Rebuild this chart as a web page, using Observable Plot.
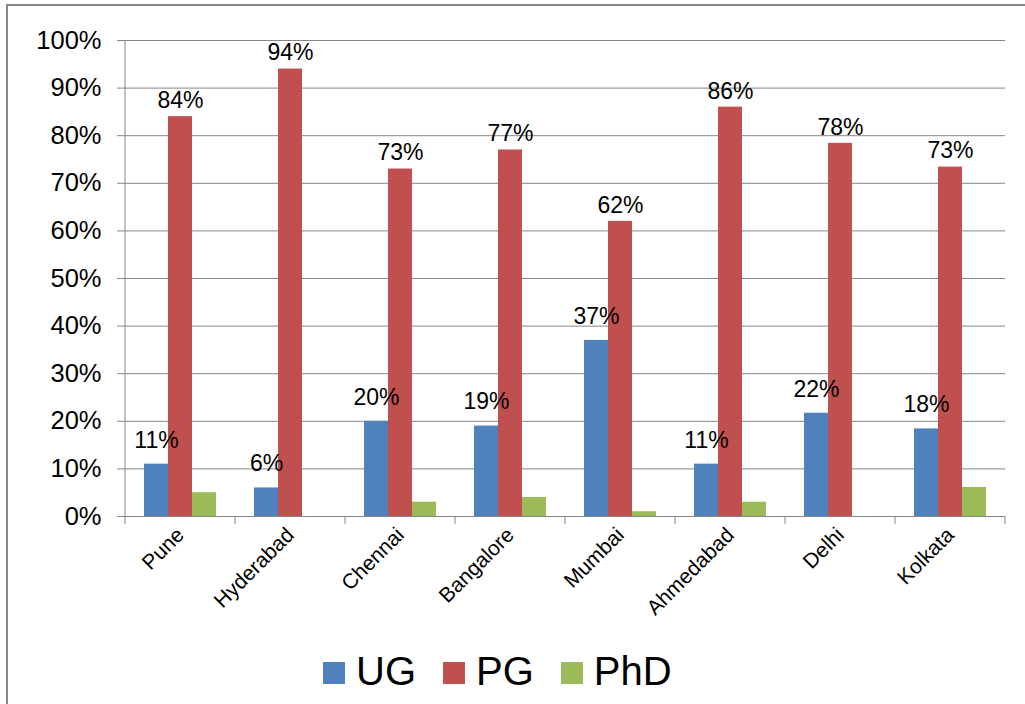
<!DOCTYPE html>
<html>
<head>
<meta charset="utf-8">
<script src="https://cdn.jsdelivr.net/npm/d3@7"></script>
<script src="https://cdn.jsdelivr.net/npm/@observablehq/plot@0.6"></script>
<style>
  body { margin: 0; background: #fff; font-family: "Liberation Sans", Arial, sans-serif; }
  #wrap { position: relative; width: 1025px; height: 704px; overflow: hidden; }
  #frame { position: absolute; left: 6px; top: 4px; width: 1200px; height: 900px;
           border-left: 2px solid #898989; border-top: 2px solid #898989; }
  #chart { position: absolute; left: 0; top: 0; }
  #legend { position: absolute; left: 323px; top: 648px; display: flex; align-items: center; }
  .item { display: flex; align-items: center; margin-right: 27px; }
  .sw { width: 22px; height: 22px; margin-right: 11px; margin-top: 4px; }
  .lab { font-size: 40px; line-height: 46px; color: #000; }
</style>
</head>
<body>
<div id="wrap">
  <div id="frame"></div>
  <div id="chart"></div>
  <div id="legend"></div>
</div>
<script>
const cities = ["Pune", "Hyderabad", "Chennai", "Bangalore", "Mumbai", "Ahmedabad", "Delhi", "Kolkata"];
const series = ["UG", "PG", "PhD"];
const colors = ["#4F81BD", "#C0504D", "#9BBB59"];
const ug  = [11, 6, 20, 19, 37, 11, 21.7, 18.4];
const pg  = [84, 94, 73, 77, 62, 86, 78.4, 73.4];
const phd = [5, 0, 3, 4, 1, 3, 0, 6.1];
const yTicks = [0, 10, 20, 30, 40, 50, 60, 70, 80, 90, 100];

const values = [ug, pg, phd];
const data = cities.flatMap((c, i) => series.map((s, j) => ({city: c, series: s, value: values[j][i]})));
const ugData = data.filter(d => d.series === "UG");
const pgData = data.filter(d => d.series === "PG");
const fmt = v => Math.round(v) + "%";
const grey = "#868686";

const chart = Plot.plot({
  width: 1025,
  height: 640,
  marginLeft: 123,
  marginRight: 18,
  marginTop: 40,
  marginBottom: 124,
  style: {fontFamily: "Liberation Sans, Arial, sans-serif", background: "transparent", overflow: "visible"},
  fx: {domain: cities, padding: 0, label: null, axis: null},
  x: {domain: series, paddingInner: 0, paddingOuter: 0.71, axis: null},
  y: {domain: [0, 100], label: null},
  color: {domain: series, range: colors},
  marks: [
    Plot.gridY(yTicks, {stroke: grey, strokeOpacity: 1, strokeWidth: 1}),
    Plot.barY(data, {fx: "city", x: "series", y: "value", fill: "series"}),
    Plot.ruleY([0], {stroke: grey, strokeWidth: 1}),
    Plot.text(ugData, {fx: "city", x: "series", y: "value", text: d => fmt(d.value), dy: -24, fontSize: 23, fill: "#000"}),
    Plot.text(pgData, {fx: "city", x: "series", y: "value", text: d => fmt(d.value), dy: -16, fontSize: 23, fill: "#000"}),
    Plot.axisY(yTicks, {tickSize: 8, tickPadding: 16, fontSize: 25.5, stroke: grey, fill: "#000", tickFormat: d => d + "%", label: null}),
    Plot.axisFx({anchor: "bottom", tickSize: 0, tickPadding: 15, tickRotate: -45, fontSize: 21, fill: "#000", label: null})
  ]
});
document.getElementById("chart").appendChild(chart);

// axis line and band-edge ticks from Plot's own scales
const fx = chart.scale("fx");
const y = chart.scale("y");
const svg = d3.select(chart);
const y0 = y.apply(0), y100 = y.apply(100);
const edges = cities.map(c => fx.apply(c));
edges.push(fx.apply(cities[cities.length - 1]) + fx.bandwidth);
svg.append("line").attr("x1", edges[0]).attr("x2", edges[0]).attr("y1", y100).attr("y2", y0)
  .attr("stroke", grey).attr("stroke-width", 1);
svg.selectAll(".edgeTick").data(edges).join("line")
  .attr("x1", d => d).attr("x2", d => d).attr("y1", y0).attr("y2", y0 + 8)
  .attr("stroke", grey).attr("stroke-width", 1);

// legend
const legend = d3.select("#legend");
series.forEach((s, i) => {
  const it = legend.append("div").attr("class", "item");
  it.append("div").attr("class", "sw").style("background", colors[i]);
  it.append("div").attr("class", "lab").text(s);
});
</script>
</body>
</html>
